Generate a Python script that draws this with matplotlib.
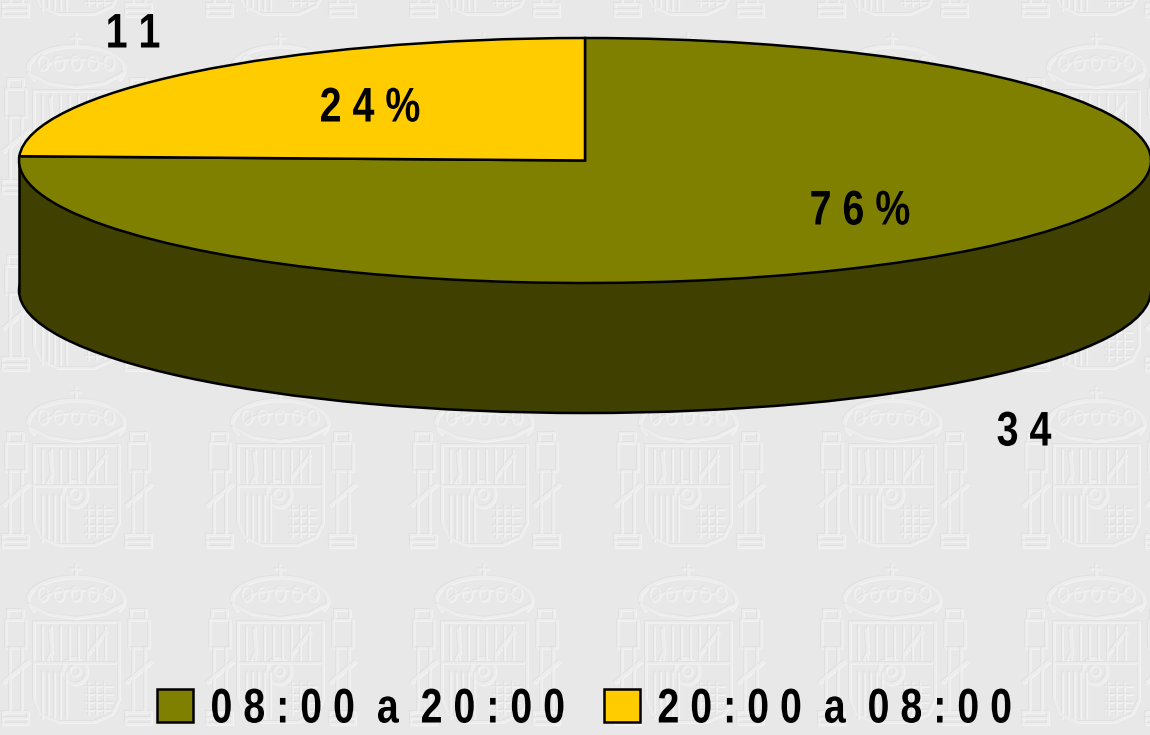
import numpy as np
import matplotlib
matplotlib.use('Agg')
import matplotlib.pyplot as plt
import matplotlib.patheffects as pe
from matplotlib.patches import Rectangle, Ellipse, Arc, Circle
from matplotlib.transforms import Affine2D

# data
values = [34, 11]
slice_colors = ['#808000', '#ffcc00']
side_color = '#404000'
legend_labels = ['0 8 : 0 0  a  2 0 : 0 0', '2 0 : 0 0  a  0 8 : 0 0']
value_labels = ['3 4', '1 1']
percent_labels = ['7 6 %', '2 4 %']

W, H = 1150, 735
BG = '#e8e8e8'
FONT = ['Liberation Sans', 'DejaVu Sans']
FS = 35
NARROW = 0.81

plt.rcParams['font.family'] = FONT
plt.rcParams['font.weight'] = 'bold'


class Squeeze(pe.AbstractPathEffect):
    # no narrow face by name, so squeeze the bold one sideways
    def __init__(self, sx, x0=None):
        super().__init__()
        self.sx = sx
        self.x0 = x0

    def draw_path(self, renderer, gc, tpath, affine, rgbFace=None):
        x0 = self.x0 if self.x0 is not None else affine.get_matrix()[0, 2]
        squeeze = Affine2D().translate(-x0, 0).scale(self.sx, 1).translate(x0, 0)
        renderer.draw_path(gc, tpath, affine + squeeze, rgbFace)


fig = plt.figure(figsize=(W / 100, H / 100), dpi=100, facecolor=BG)

# background axes in pixel coordinates
bg = fig.add_axes([0, 0, 1, 1])
bg.set_xlim(0, W)
bg.set_ylim(H, 0)
bg.axis('off')


def crest_layer(x0, y0, d, color):
    # one embossed layer of the watermark, local box is about 155x160
    kw = dict(color=color, lw=1.2, solid_capstyle='round')
    x = x0 + d
    y = y0 + d
    # cross and crown
    bg.plot([x + 76, x + 76], [y, y + 12], **kw)
    bg.plot([x + 71, x + 81], [y + 5, y + 5], **kw)
    bg.add_patch(Arc((x + 76, y + 36), 96, 46, theta1=165, theta2=375, ec=color, lw=2.2, fill=False))
    bg.add_patch(Arc((x + 76, y + 38), 70, 24, theta1=180, theta2=360, ec=color, lw=1.1, fill=False))
    for cx in [43, 59, 76, 93, 109]:
        bg.add_patch(Ellipse((x + cx, y + 30), 10, 14, ec=color, lw=1.1, fill=False))
    bg.plot([x + 29, x + 48, x + 76, x + 104, x + 123], [y + 40, y + 50, y + 54, y + 50, y + 40], color=color, lw=1.6)
    # pillars
    for px in [6, 129]:
        bg.add_patch(Rectangle((x + px + 2, y + 46), 15, 10, ec=color, lw=1.4, fill=False))
        bg.add_patch(Rectangle((x + px, y + 56), 20, 28, ec=color, lw=1.1, fill=False))
        bg.plot([x + px + 4, x + px + 4], [y + 84, y + 146], **kw)
        bg.plot([x + px + 16, x + px + 16], [y + 84, y + 146], **kw)
        bg.plot([x + px - 2, x + px + 22], [y + 118, y + 98], color=color, lw=2.4)
        bg.add_patch(Rectangle((x + px - 3, y + 148), 25, 12, ec=color, lw=1.6, fill=False))
        bg.plot([x + px - 3, x + px + 22], [y + 154, y + 154], **kw)
    # shield
    bg.plot([x + 34, x + 34, x + 40, x + 58, x + 94, x + 112, x + 119, x + 119],
            [y + 58, y + 136, y + 150, y + 158, y + 158, y + 150, y + 136, y + 58], color=color, lw=1.4)
    bg.plot([x + 34, x + 119], [y + 58, y + 58], **kw)
    for sx in range(42, 72, 6):
        bg.plot([x + sx, x + sx], [y + 108, y + 154], color=color, lw=0.9)
    for sx in range(42, 114, 9):
        bg.plot([x + sx, x + sx], [y + 62, y + 96], color=color, lw=0.8)
    bg.plot([x + 34, x + 119], [y + 99, y + 99], **kw)
    bg.plot([x + 88, x + 106], [y + 90, y + 68], color=color, lw=2)
    bg.plot([x + 50, x + 52, x + 48], [y + 66, y + 88, y + 96], color=color, lw=2)
    bg.add_patch(Ellipse((x + 75, y + 107), 24, 26, ec=color, lw=2, fill=False))
    bg.add_patch(Circle((x + 75, y + 107), 5, ec=color, lw=1.2, fill=False))
    for sy in range(122, 152, 8):
        bg.plot([x + 85, x + 112], [y + sy, y + sy], color=color, lw=0.8)
    for sx in range(88, 112, 8):
        bg.plot([x + sx, x + sx], [y + 118, y + 150], color=color, lw=0.8)


for row_y in [-144, 33, 210, 387, 564]:
    for col_x in [0, 204, 408, 612, 816, 1020]:
        crest_layer(col_x, row_y, 1.0, '#f3f3f3')
        crest_layer(col_x, row_y, -0.8, '#e0e0e0')
        crest_layer(col_x, row_y, 0, '#ededed')

# pie axes, stretched: radius 1 is 566 px wide and 122.5 px high
cx, cy, rx, ry = 585, 160.5, 566, 122.5
depth = 130 / ry
ax = fig.add_axes([(cx - rx) / W, 1 - (cy + ry + 130) / H, 2 * rx / W, (2 * ry + 130) / H])
ax.patch.set_alpha(0)

edge = dict(edgecolor='black', linewidth=1.8)
side, _ = ax.pie([sum(values)], colors=[side_color], startangle=90, counterclock=False,
                 center=(0, -depth), wedgeprops=edge)
side[0].set_clip_on(False)
ax.add_patch(Rectangle((-1, -depth), 2, depth, facecolor=side_color, edgecolor='none', zorder=3))
ax.plot([-1, -1], [0, -depth], color='black', lw=1.8, zorder=3, clip_on=False)
ax.plot([1, 1], [0, -depth], color='black', lw=1.8, zorder=3, clip_on=False)
wedges, _ = ax.pie(values, colors=slice_colors, startangle=90, counterclock=False, wedgeprops=edge)
for w in wedges:
    w.set_zorder(4)
    w.set_clip_on(False)
ax.set_aspect('auto')
ax.set_xlim(-1, 1)
ax.set_ylim(-1 - depth, 1)
ax.axis('off')

# labels in pixel coordinates, above the pie axes
top = fig.add_axes([0, 0, 1, 1])
top.set_xlim(0, W)
top.set_ylim(H, 0)
top.axis('off')
top.patch.set_alpha(0)


def label(x, y, s):
    t = top.text(x, y, s, color='black', fontsize=FS, fontweight='bold', ha='center', va='center')
    t.set_path_effects([Squeeze(NARROW, x)])


label(860, 212, percent_labels[0])
label(370, 109, percent_labels[1])
label(1024, 433, value_labels[0])
label(133, 35, value_labels[1])

handles = [Rectangle((0, 0), 1, 1, facecolor=c, edgecolor='black', linewidth=1.8) for c in slice_colors]
leg = top.legend(handles, legend_labels, ncol=2, loc='center left', bbox_to_anchor=(157 / W, 1 - 710 / H),
                 bbox_transform=fig.transFigure, frameon=False,
                 handlelength=0.75, handleheight=0.65, handletextpad=0.35,
                 columnspacing=-0.9, borderpad=0, borderaxespad=0,
                 prop=dict(family=FONT, weight='bold', size=FS))
for t in leg.get_texts():
    t.set_path_effects([Squeeze(NARROW)])

fig.savefig('out.png', dpi=100, facecolor=BG)
